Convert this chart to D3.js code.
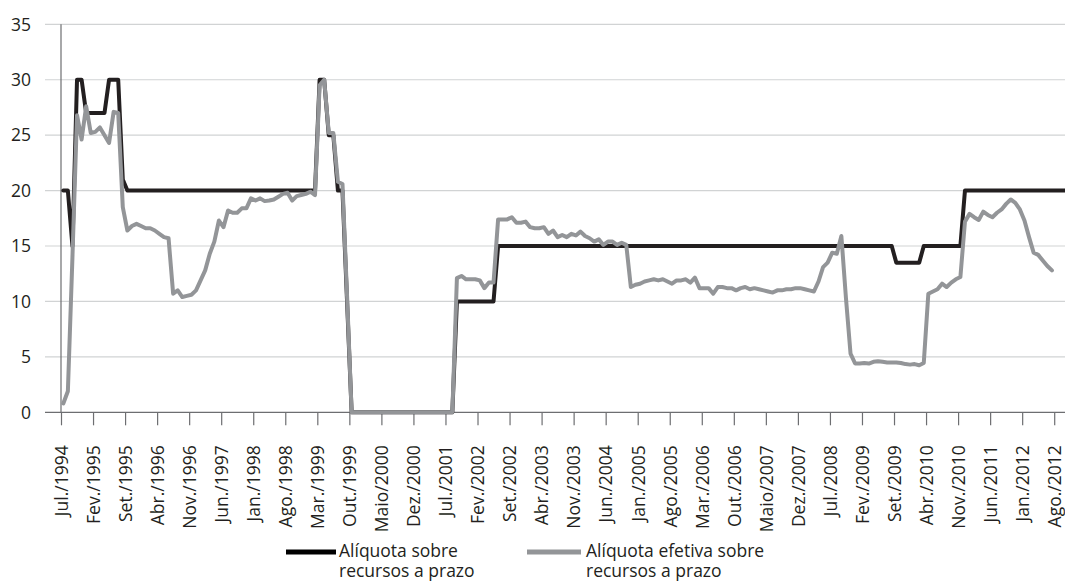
<!DOCTYPE html>
<html><head><meta charset="utf-8">
<script src="https://cdn.jsdelivr.net/npm/d3@7"></script>
<style>
body{margin:0;background:#fff}
svg{display:block}
text{font-family:"Open Sans",sans-serif;fill:#231f20}
</style></head>
<body><svg id="c" width="1065" height="581"></svg>
<script>
// Monthly series, Jul./1994 onward
const tickLabels = ["Jul./1994","Fev./1995","Set./1995","Abr./1996","Nov./1996","Jun./1997","Jan./1998","Ago./1998","Mar./1999","Out./1999","Maio/2000","Dez./2000","Jul./2001","Fev./2002","Set./2002","Abr./2003","Nov./2003","Jun./2004","Jan./2005","Ago./2005","Mar./2006","Out./2006","Maio/2007","Dez./2007","Jul./2008","Fev./2009","Set./2009","Abr./2010","Nov./2010","Jun./2011","Jan./2012","Ago./2012"];
const tickEvery = 7;
const yTicks = [0,5,10,15,20,25,30,35];
const seriesNames = ["Alíquota sobre\nrecursos a prazo","Alíquota efetiva sobre\nrecursos a prazo"];

const aliquota = [
20,20,15,30,30,27,27,27,27,27,30,30,
30,21,20,20,20,20,20,20,20,20,20,20,
20,20,20,20,20,20,20,20,20,20,20,20,
20,20,20,20,20,20,20,20,20,20,20,20,
20,20,20,20,20,20,20,20,30,30,25,25,
20,20,10,0,0,0,0,0,0,0,0,0,
0,0,0,0,0,0,0,0,0,0,0,0,
0,0,10,10,10,10,10,10,10,10,10,15,
15,15,15,15,15,15,15,15,15,15,15,15,
15,15,15,15,15,15,15,15,15,15,15,15,
15,15,15,15,15,15,15,15,15,15,15,15,
15,15,15,15,15,15,15,15,15,15,15,15,
15,15,15,15,15,15,15,15,15,15,15,15,
15,15,15,15,15,15,15,15,15,15,15,15,
15,15,15,15,15,15,15,15,15,15,15,15,
15,15,13.5,13.5,13.5,13.5,13.5,13.5,15,15,15,15,
15,15,15,15,15,20,20,20,20,20,20,20,
20,20,20,20,20,20,20,20,20,20,20,20,
20,20,20,20,20,20
];

const efetiva = [
0.8,1.9,14,26.8,24.6,27.6,25.2,25.3,25.7,25.0,24.3,27.1,
27.0,18.5,16.4,16.8,17.0,16.8,16.6,16.6,16.4,16.1,15.8,15.7,
10.7,11.0,10.4,10.5,10.6,11.0,11.9,12.8,14.3,15.4,17.3,16.7,
18.2,18.0,18.0,18.4,18.4,19.3,19.1,19.3,19.05,19.1,19.2,19.45,
19.7,19.8,19.1,19.5,19.6,19.7,19.9,19.6,29.5,30.0,25.2,25.2,
20.8,20.6,10.5,0,0,0,0,0,0,0,0,0,
0,0,0,0,0,0,0,0,0,0,0,0,
0,0,12.1,12.3,12.0,12.0,12.0,11.9,11.2,11.7,11.7,17.4,
17.4,17.4,17.6,17.1,17.1,17.2,16.7,16.6,16.6,16.7,16.1,16.4,
15.8,16.0,15.8,16.1,15.95,16.3,15.9,15.7,15.4,15.6,15.1,15.4,
15.4,15.1,15.3,15.1,11.3,11.5,11.6,11.8,11.9,12.0,11.9,12.0,
11.8,11.6,11.9,11.9,12.0,11.7,12.15,11.2,11.2,11.2,10.7,11.3,
11.3,11.2,11.2,11.0,11.2,11.3,11.1,11.2,11.1,11.0,10.9,10.8,
11.0,11.0,11.1,11.1,11.2,11.2,11.1,11.0,10.9,11.8,13.1,13.5,
14.4,14.3,15.9,10.3,5.3,4.4,4.4,4.45,4.4,4.55,4.6,4.55,
4.5,4.5,4.5,4.45,4.35,4.3,4.35,4.25,4.45,10.7,10.9,11.1,
11.6,11.3,11.7,12.0,12.2,17.2,17.9,17.6,17.35,18.1,17.8,17.6,
18.0,18.3,18.8,19.2,18.9,18.3,17.3,15.8,14.4,14.2,13.7,13.2,
12.8
];

const nMonths = 222;
const svg = d3.select("#c");
const x = d3.scaleLinear().domain([0, nMonths]).range([61, 61 + nMonths * 4.577]);
const y = d3.scaleLinear().domain([0, 35]).range([412.3, 24.3]);

// gridlines
svg.append("g").selectAll("line").data(yTicks.filter(d => d > 0)).join("line")
  .attr("x1", 45).attr("x2", 1080)
  .attr("y1", d => y(d)).attr("y2", d => y(d))
  .attr("stroke", "#d1d3d4").attr("stroke-width", 1.2);

// y tick labels
svg.append("g").selectAll("text").data(yTicks).join("text")
  .attr("x", 31).attr("y", d => y(d)).attr("dy", "0.36em")
  .attr("text-anchor", "end").style("font-size", "17.5px").text(d => d);

// y axis line
svg.append("line").attr("x1", 61).attr("x2", 61).attr("y1", y(35)).attr("y2", y(0))
  .attr("stroke", "#6d6e71").attr("stroke-width", 1.2);

// x axis
const xAxis = d3.axisBottom(x)
  .tickValues(tickLabels.map((d, k) => k * tickEvery))
  .tickSize(13).tickSizeOuter(0)
  .tickFormat((d, k) => tickLabels[k]);
const gx = svg.append("g").attr("transform", `translate(0,${y(0)})`).call(xAxis);
gx.select(".domain").remove();
gx.append("line").attr("x1", 45).attr("x2", 1080).attr("stroke", "#6d6e71").attr("stroke-width", 1.3);
gx.selectAll(".tick line").attr("stroke", "#6d6e71").attr("stroke-width", 1.2);
gx.selectAll(".tick text")
  .attr("transform", "rotate(-90)")
  .attr("x", -33).attr("y", 0).attr("dy", "0.36em")
  .attr("text-anchor", "end")
  .style("font-family", '"Open Sans",sans-serif')
  .style("font-size", "17.5px").attr("fill", "#231f20");

// lines
const line = d3.line().x((d, i) => x(i + 0.5)).y(d => y(d));
svg.append("path").datum(aliquota).attr("d", line)
  .attr("fill", "none").attr("stroke", "#231f20").attr("stroke-width", 4)
  .attr("stroke-linejoin", "round").attr("stroke-linecap", "round");
svg.append("path").datum(efetiva).attr("d", line)
  .attr("fill", "none").attr("stroke", "#939598").attr("stroke-width", 4)
  .attr("stroke-linejoin", "round").attr("stroke-linecap", "round");

// legend
const legend = [
  {name: seriesNames[0], color: "#000000", x1: 286, x2: 336, tx: 339},
  {name: seriesNames[1], color: "#939598", x1: 527, x2: 581, tx: 586}
];
const lg = svg.append("g");
legend.forEach(l => {
  lg.append("line").attr("x1", l.x1).attr("x2", l.x2).attr("y1", 552).attr("y2", 552)
    .attr("stroke", l.color).attr("stroke-width", 5);
  l.name.split("\n").forEach((s, k) => {
    lg.append("text").attr("x", l.tx).attr("y", 557 + k * 20)
      .style("font-size", "17.5px").text(s);
  });
});
</script></body></html>
